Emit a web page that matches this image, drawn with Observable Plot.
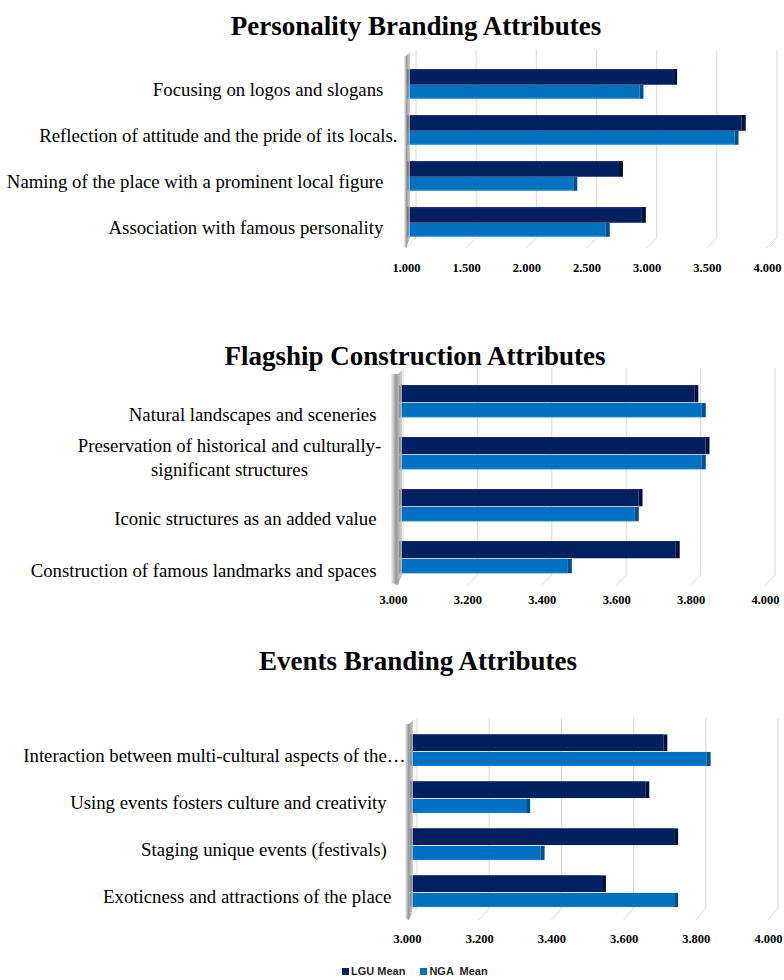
<!DOCTYPE html>
<html><head><meta charset="utf-8">
<script src="https://cdn.jsdelivr.net/npm/d3@7"></script>
<script src="https://cdn.jsdelivr.net/npm/@observablehq/plot@0.6"></script>
<style>
body{margin:0;background:#fff;width:784px;height:980px;position:relative;overflow:hidden;font-family:"Liberation Serif",serif;}
.title{position:absolute;transform:translateX(-50%);white-space:nowrap;font-weight:bold;font-size:27px;line-height:27px;color:#000;font-family:"Liberation Serif",serif;}
.chart{position:absolute;left:0;}
.legend{position:absolute;left:342px;top:964px;font-family:"Liberation Sans",Arial,sans-serif;font-weight:bold;font-size:11px;line-height:14px;color:#262626;white-space:pre;}
.legend span.sw{display:inline-block;width:7px;height:7px;margin-right:2px;vertical-align:0px;}
.legend span.item + span.item{margin-left:15px;}
</style></head><body>
<script>
// ---------- data ----------
const seriesNames = ["LGU Mean", "NGA  Mean"];
const seriesColors = ["#002060", "#0070C0"];
const capColors = ["#00103a", "#004f8a"];
const edgeColors = ["#1c3478", "#4aa3e6"];

const personalityTitle = "Personality Branding Attributes";
const personalityCategories = [
  "Focusing on logos and slogans\u00a0\u00a0\u00a0",
  "Reflection of attitude and the pride of its locals.",
  "Naming of the place with a prominent local figure\u00a0\u00a0\u00a0",
  "Association with famous personality\u00a0\u00a0\u00a0"
];
const personalityLGU = [3.22, 3.79, 2.77, 2.96];
const personalityNGA = [2.94, 3.73, 2.39, 2.66];
const personalityTicks = [1.0, 1.5, 2.0, 2.5, 3.0, 3.5, 4.0];

const flagshipTitle = "Flagship Construction Attributes";
const flagshipCategories = [
  "Natural landscapes and sceneries",
  "Preservation of historical and culturally-\nsignificant structures",
  "Iconic structures as an added value",
  "Construction of famous landmarks and spaces"
];
const flagshipLGU = [3.81, 3.84, 3.66, 3.76];
const flagshipNGA = [3.83, 3.83, 3.65, 3.47];
const flagshipTicks = [3.0, 3.2, 3.4, 3.6, 3.8, 4.0];

const eventsTitle = "Events Branding Attributes";
const eventsCategories = [
  "Interaction between multi-cultural aspects of the\u2026",
  "Using events fosters culture and creativity\u00a0\u00a0\u00a0\u00a0",
  "Staging unique events (festivals)\u00a0\u00a0\u00a0\u00a0",
  "Exoticness and attractions of the place\u00a0\u00a0\u00a0"
];
const eventsLGU = [3.71, 3.66, 3.74, 3.54];
const eventsNGA = [3.83, 3.33, 3.37, 3.74];
const eventsTicks = [3.0, 3.2, 3.4, 3.6, 3.8, 4.0];

// ---------- layout (page pixel positions) ----------
const charts = [
  {title: personalityTitle, cats: personalityCategories, lgu: personalityLGU, nga: personalityNGA, ticks: personalityTicks,
   titleY: 13, titleX: 416, svgTop: 40, svgH: 240, yTop: 60, yBot: 245, xLeft: 406, xRight: 767,
   gridTop: 50, gridBack: 238, gridFront: 248, tickY: 267, barStart: 1, lguTop: 8, lguH: 16, ngaH: 14,
   labelPad: 9, labelDy: 5},
  {title: flagshipTitle, cats: flagshipCategories, lgu: flagshipLGU, nga: flagshipNGA, ticks: flagshipTicks,
   titleY: 343, titleX: 415, svgTop: 355, svgH: 260, yTop: 373, yBot: 584, xLeft: 393, xRight: 765,
   gridTop: 368, gridBack: 575, gridFront: 585, tickY: 599, barStart: 6, lguTop: 10, lguH: 18, ngaH: 15,
   labelPad: 17, labelDy: 13, multiX: 229, multiDy: 2.5},
  {title: eventsTitle, cats: eventsCategories, lgu: eventsLGU, nga: eventsNGA, ticks: eventsTicks,
   titleY: 648, titleX: 418, svgTop: 705, svgH: 245, yTop: 725.6, yBot: 917, xLeft: 407, xRight: 768,
   gridTop: 718, gridBack: 908, gridFront: 920, tickY: 938, barStart: 3, lguTop: 7.4, lguH: 17.5, ngaH: 15,
   labelPad: 2, labelDy: 5}
];

const fmt = d3.format(".3f");
const labelSize = 18.8;

function gridMark(L) {
  return (index, scales) => {
    const g = d3.create("svg:g");
    const off = 10;
    for (const t of L.ticks) {
      const xf = scales.x(t);
      g.append("path")
        .attr("d", `M${xf + off},${L.gridTop - L.svgTop}V${L.gridBack - L.svgTop}L${xf},${L.gridFront - L.svgTop}`)
        .attr("stroke", "#d9d9d9").attr("stroke-width", 1).attr("fill", "none");
    }
    return g.node();
  };
}

let gradCount = 0;
function wallMark(L) {
  return (index, scales) => {
    const id = "wallgrad" + (gradCount++);
    const g = d3.create("svg:g");
    const lg = g.append("defs").append("linearGradient").attr("id", id).attr("x1", 0).attr("x2", 1).attr("y1", 0).attr("y2", 0);
    lg.append("stop").attr("offset", "0%").attr("stop-color", "#f2f2f2");
    lg.append("stop").attr("offset", "45%").attr("stop-color", "#7f7f7f");
    lg.append("stop").attr("offset", "100%").attr("stop-color", "#c8c8c8");
    const x0 = scales.x(L.ticks[0]);
    const w = L.barStart + 2;
    const top = L.gridTop - L.svgTop + 6, back = L.gridBack - L.svgTop, front = L.gridFront - L.svgTop;
    g.append("path")
      .attr("d", `M${x0 + w - 3},${top}L${x0 + w + 1},${top - 4}V${back}L${x0 + w - 3},${front}L${x0 - 2},${front - 2}V${top}Z`)
      .attr("fill", `url(#${id})`).attr("opacity", 0.8);
    return g.node();
  };
}

const root = document.body;
for (const L of charts) {
  const n = L.cats.length;
  const band = (L.yBot - L.yTop) / n;
  const data = L.cats.map((c, i) => ({c, lgu: L.lgu[i], nga: L.nga[i]}));
  const d0 = L.ticks[0];
  const ngaTop = L.lguTop + L.lguH;
  const lguInset = {insetTop: L.lguTop, insetBottom: band - L.lguTop - L.lguH};
  const ngaInset = {insetTop: ngaTop, insetBottom: band - ngaTop - L.ngaH};
  const lguEdge = {insetTop: L.lguTop, insetBottom: band - L.lguTop - 1.5};
  const ngaEdge = {insetTop: ngaTop + L.ngaH - 1.2, insetBottom: band - ngaTop - L.ngaH};

  const t = document.createElement("div");
  t.className = "title";
  t.style.left = L.titleX + "px";
  t.style.top = L.titleY + "px";
  t.textContent = L.title;
  root.appendChild(t);

  const marks = [
    gridMark(L),
    Plot.barX(data, {x1: () => d0, x2: "lgu", y: "c", fill: seriesColors[0], insetLeft: L.barStart, ...lguInset}),
    Plot.barX(data, {x1: () => d0, x2: "lgu", y: "c", fill: edgeColors[0], insetLeft: L.barStart, ...lguEdge}),
    Plot.barX(data, {x1: "lgu", x2: "lgu", y: "c", fill: capColors[0], insetRight: -4, ...lguInset}),
    Plot.barX(data, {x1: () => d0, x2: "nga", y: "c", fill: seriesColors[1], insetLeft: L.barStart, ...ngaInset}),
    Plot.barX(data, {x1: () => d0, x2: "nga", y: "c", fill: edgeColors[1], insetLeft: L.barStart, ...ngaEdge}),
    Plot.barX(data, {x1: "nga", x2: "nga", y: "c", fill: capColors[1], insetRight: -4, ...ngaInset}),
    wallMark(L),
    Plot.axisX(L.ticks, {tickSize: 0, tickPadding: L.tickY - 4 - L.yBot, tickFormat: fmt, fontWeight: "bold", fontSize: 12.5, fill: "#000", label: null}),
    Plot.axisY({tickSize: 0, tickPadding: L.labelPad, dy: L.labelDy, fontSize: labelSize, fill: "#000", label: null,
      tickFormat: d => d.includes("\n") ? "" : d})
  ];
  const multi = data.filter(d => d.c.includes("\n"));
  if (multi.length) {
    marks.push(Plot.text(multi, {y: "c", text: "c", frameAnchor: "left", dx: L.multiX - L.xLeft, dy: L.multiDy,
      textAnchor: "middle", lineHeight: 1.28, fontSize: labelSize, fill: "#000"}));
  }

  const svg = Plot.plot({
    width: 784,
    height: L.svgH,
    marginLeft: L.xLeft,
    marginRight: 784 - L.xRight,
    marginTop: L.yTop - L.svgTop,
    marginBottom: L.svgTop + L.svgH - L.yBot,
    style: {fontFamily: "'Liberation Serif', serif", background: "transparent", overflow: "visible"},
    x: {domain: [L.ticks[0], L.ticks[L.ticks.length - 1]], axis: null},
    y: {domain: L.cats, padding: 0, axis: null},
    marks
  });
  svg.classList.add("chart");
  svg.style.top = L.svgTop + "px";
  root.appendChild(svg);
}

const lg = document.createElement("div");
lg.className = "legend";
lg.innerHTML = seriesNames.map((s, i) =>
  `<span class="item"><span class="sw" style="background:${seriesColors[i]}"></span>${s}</span>`).join("");
root.appendChild(lg);
</script>
</body></html>
